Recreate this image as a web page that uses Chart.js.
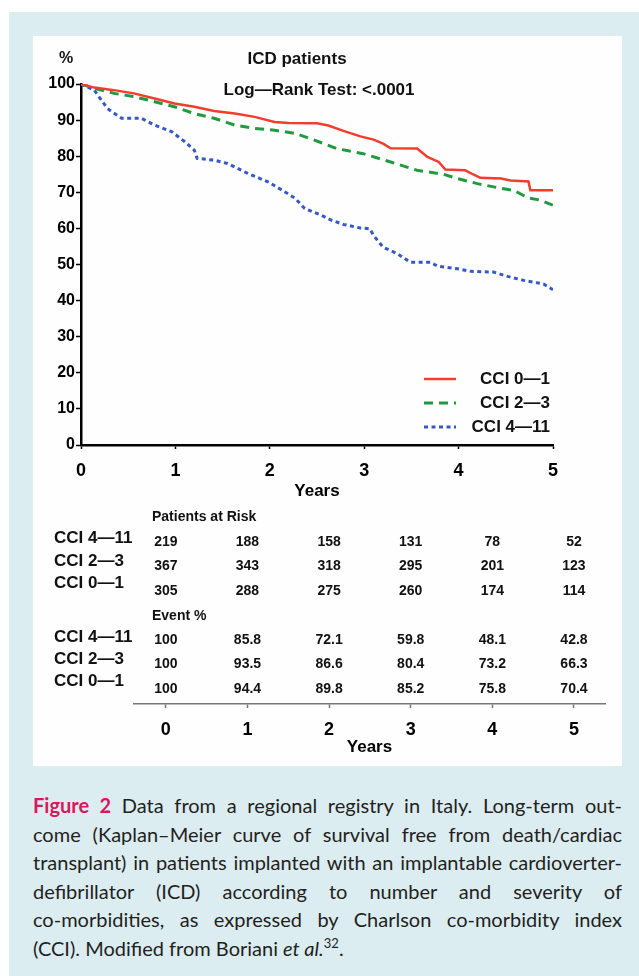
<!DOCTYPE html>
<html>
<head>
<meta charset="utf-8">
<script src="https://cdn.jsdelivr.net/npm/chart.js@4.4.0/dist/chart.umd.min.js"></script>
<style>
  html, body { margin: 0; padding: 0; background: #fff; }
  body { width: 639px; height: 976px; position: relative; overflow: hidden; }
  #box { position: absolute; left: 9px; top: 12px; width: 630px; height: 964px; background: #dcedf2; }
  #panel { position: absolute; left: 33px; top: 36px; width: 589px; height: 730px; background: #fefefe; }
  #km { position: absolute; left: 0; top: 0; }
  #risk { position: absolute; left: 0; top: 470px; }
  #caption { position: absolute; left: 33px; top: 791px; width: 589px; font-family: Lato, sans-serif;
             font-size: 20px; line-height: 28.5px; color: #231f20; }
  #caption .l { display: block; text-align: justify; text-align-last: justify; }
  #caption .last { display: block; }
  #caption .fig { color: #d6195b; font-weight: bold; }
  #caption sup { font-size: 13px; line-height: 0; }
</style>
</head>
<body>
<div id="box"></div>
<div id="panel">
  <canvas id="km" width="589" height="470"></canvas>
  <canvas id="risk" width="589" height="260"></canvas>
</div>
<div id="caption">
  <span class="l"><span class="fig">Figure 2</span> Data from a regional registry in Italy. Long-term out-</span>
  <span class="l">come (Kaplan–Meier curve of survival free from death/cardiac</span>
  <span class="l">transplant) in patients implanted with an implantable cardioverter-</span>
  <span class="l">defibrillator (ICD) according to number and severity of</span>
  <span class="l">co-morbidities, as expressed by Charlson co-morbidity index</span>
  <span class="last">(CCI). Modified from Boriani <i>et al.</i><sup>32</sup>.</span>
</div>
<script>
const years = [0, 1, 2, 3, 4, 5];
const yTicks = [0, 10, 20, 30, 40, 50, 60, 70, 80, 90, 100];
const seriesNames = ["CCI 0—1", "CCI 2—3", "CCI 4—11"];

// Kaplan-Meier curves (years, % free from event)
const cci01Time = [0, 0.14, 0.35, 0.56, 0.78, 0.99, 1.2, 1.41, 1.63, 1.84, 2.05, 2.2, 2.5, 2.62, 2.78,
    2.96, 3.1, 3.2, 3.28, 3.56, 3.67, 3.79, 3.86, 4.07, 4.15, 4.23, 4.45, 4.55, 4.74, 4.76, 5];
const cci01Surv = [100, 99, 98.3, 97.4, 96, 94.6, 93.7, 92.5, 91.8, 90.9, 89.5, 89.2, 89.1, 88.5, 87,
    85.5, 84.6, 83.5, 82.2, 82.1, 79.8, 78.4, 76.3, 76.1, 75, 74, 73.8, 73.3, 73, 70.6, 70.6];

const cci23Time = [0, 0.14, 0.35, 0.56, 0.78, 0.99, 1.2, 1.41, 1.63, 1.84, 2.05, 2.27, 2.48, 2.71, 2.99,
    3.28, 3.56, 3.84, 3.99, 4.2, 4.41, 4.59, 4.73, 4.87, 5];
const cci23Surv = [100, 98.8, 97.4, 96.5, 95.1, 93.7, 91.8, 90.5, 88.6, 87.7, 87.2, 86.3, 84.4, 82.1, 80.7,
    78.4, 76.1, 75, 73.8, 72.4, 71.3, 70.5, 68.5, 67.8, 66.4];

const cci411Time = [0, 0.14, 0.28, 0.43, 0.64, 0.78, 0.96, 1.1, 1.2, 1.23, 1.41, 1.55, 1.77, 1.98, 2.13,
    2.27, 2.37, 2.55, 2.64, 2.78, 2.96, 3.06, 3.1, 3.14, 3.2, 3.35, 3.49, 3.7, 3.78, 3.99,
    4.13, 4.37, 4.52, 4.69, 4.9, 5];
const cci411Surv = [100, 98.3, 93.2, 90.5, 90.5, 88.6, 86.8, 84, 81.7, 79.4, 78.9, 78, 75.2, 72.9, 70.6,
    68.3, 65.5, 63.6, 62.4, 61.1, 60.1, 59.9, 58, 56.7, 54.8, 53, 50.6, 50.6, 49.5, 48.8,
    48.1, 47.9, 46.7, 45.6, 44.6, 43];

// table under the plot
const atRisk411 = [219, 188, 158, 131, 78, 52];
const atRisk23 = [367, 343, 318, 295, 201, 123];
const atRisk01 = [305, 288, 275, 260, 174, 114];
const event411 = [100, 85.8, 72.1, 59.8, 48.1, 42.8];
const event23 = [100, 93.5, 86.6, 80.4, 73.2, 66.3];
const event01 = [100, 94.4, 89.8, 85.2, 75.8, 70.4];

const FONT = "'Liberation Sans', Arial, sans-serif";
Chart.defaults.font.family = FONT;
Chart.defaults.font.weight = "bold";
Chart.defaults.color = "#111";

function puntos(tiempos, valores) {
    return tiempos.map((t, i) => ({ x: t, y: valores[i] }));
}

const kmTexto = {
    id: "kmTexto",
    afterDraw(chart) {
        const ctx = chart.ctx;
        ctx.save();
        ctx.fillStyle = "#111";
        ctx.textBaseline = "middle";
        ctx.textAlign = "center";
        ctx.font = "bold 17px " + FONT;
        ctx.fillText("ICD patients", 264, 23);
        ctx.fillText("Log—Rank Test: <.0001", 286, 54);
        ctx.font = "bold 16px " + FONT;
        ctx.fillText("%", 33, 23);

        // legend inside the plot
        const filas = [343, 367, 391];
        chart.data.datasets.forEach((ds, i) => {
            ctx.strokeStyle = ds.borderColor;
            ctx.lineWidth = ds.borderWidth;
            ctx.setLineDash(ds.borderDash || []);
            ctx.beginPath();
            ctx.moveTo(391, filas[i]);
            ctx.lineTo(423, filas[i]);
            ctx.stroke();
            ctx.setLineDash([]);
            ctx.textAlign = "right";
            ctx.font = "bold 17px " + FONT;
            ctx.fillText(ds.label, 517, filas[i]);
        });
        ctx.restore();
    }
};

new Chart(document.getElementById("km"), {
    type: "line",
    data: {
        datasets: [
            { label: seriesNames[0], data: puntos(cci01Time, cci01Surv), borderColor: "#f23d2e", borderWidth: 2.5 },
            { label: seriesNames[1], data: puntos(cci23Time, cci23Surv), borderColor: "#1f9a3e", borderWidth: 3, borderDash: [9, 6] },
            { label: seriesNames[2], data: puntos(cci411Time, cci411Surv), borderColor: "#3558c8", borderWidth: 3, borderDash: [4, 3.5] }
        ]
    },
    options: {
        responsive: false,
        animation: false,
        elements: { point: { radius: 0 }, line: { tension: 0, fill: false } },
        layout: { padding: { top: 48, right: 69, left: 0, bottom: 0 } },
        plugins: { legend: { display: false }, tooltip: { enabled: false } },
        scales: {
            x: {
                type: "linear",
                min: years[0],
                max: years[years.length - 1],
                afterBuildTicks: s => { s.ticks = years.map(v => ({ value: v })); },
                afterFit: s => { s.height = 61; },
                grid: { drawOnChartArea: false, tickLength: 4, tickColor: "#000", tickWidth: 1.5 },
                border: { color: "#000", width: 2.5 },
                ticks: { color: "#000", padding: 11, maxRotation: 0, font: { size: 18, weight: "bold" } },
                title: { display: true, text: "Years", color: "#000", padding: { top: 0, bottom: 4 }, font: { size: 17, weight: "bold" } }
            },
            y: {
                min: yTicks[0],
                max: yTicks[yTicks.length - 1],
                afterBuildTicks: s => { s.ticks = yTicks.map(v => ({ value: v })); },
                afterFit: s => { s.width = 48; },
                grid: { drawOnChartArea: false, tickLength: 5, tickColor: "#000", tickWidth: 1.5 },
                border: { color: "#000", width: 2.5 },
                ticks: { color: "#000", padding: 1, font: { size: 16, weight: "bold" } }
            }
        }
    },
    plugins: [kmTexto]
});

const tablaTexto = {
    id: "tablaTexto",
    afterDraw(chart) {
        const ctx = chart.ctx;
        const xs = chart.scales.x;
        ctx.save();
        ctx.fillStyle = "#111";
        ctx.textBaseline = "middle";

        ctx.textAlign = "left";
        ctx.font = "bold 14px " + FONT;
        ctx.fillText("Patients at Risk", 119, 11);
        ctx.fillText("Event %", 119, 110);

        ctx.font = "bold 17px " + FONT;
        [[seriesNames[2], 32], [seriesNames[1], 55], [seriesNames[0], 77],
         [seriesNames[2], 131], [seriesNames[1], 153], [seriesNames[0], 175]].forEach(([t, y]) => {
            ctx.fillText(t, 21, y);
        });

        const filas = [
            [atRisk411, 36], [atRisk23, 60], [atRisk01, 85],
            [event411, 134], [event23, 158], [event01, 183]
        ];
        ctx.textAlign = "center";
        ctx.font = "bold 14px " + FONT;
        filas.forEach(([valores, y]) => {
            valores.forEach((v, i) => {
                ctx.fillText(String(v), xs.getPixelForValue(years[i]), y);
            });
        });
        ctx.restore();
    }
};

new Chart(document.getElementById("risk"), {
    type: "scatter",
    data: { datasets: [] },
    options: {
        responsive: false,
        animation: false,
        layout: { padding: { top: 0, right: 17, left: 101, bottom: 0 } },
        plugins: { legend: { display: false }, tooltip: { enabled: false } },
        scales: {
            x: {
                type: "linear",
                min: -0.39,
                max: 5.38,
                afterBuildTicks: s => { s.ticks = years.map(v => ({ value: v })); },
                afterFit: s => { s.height = 62; },
                grid: { drawOnChartArea: false, tickLength: 4, tickColor: "#777", tickWidth: 1.5 },
                border: { color: "#777", width: 1.5 },
                ticks: { color: "#000", padding: 11, maxRotation: 0, font: { size: 18, weight: "bold" } },
                title: { display: true, text: "Years", color: "#000", padding: { top: 0, bottom: 8 }, font: { size: 17, weight: "bold" } }
            },
            y: { display: false, min: 0, max: 1 }
        }
    },
    plugins: [tablaTexto]
});
</script>
</body>
</html>
